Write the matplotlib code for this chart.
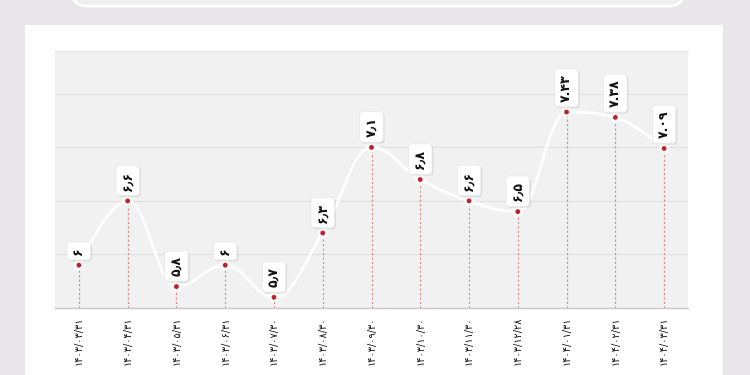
import matplotlib.pyplot as plt
from matplotlib.path import Path
from matplotlib.patches import PathPatch, Rectangle, FancyBboxPatch
import matplotlib.patheffects as pe

# Data
dates = ['۱۴۰۳/۰۳/۳۱', '۱۴۰۳/۰۴/۳۱', '۱۴۰۳/۰۵/۳۱', '۱۴۰۳/۰۶/۳۱', '۱۴۰۳/۰۷/۳۰',
         '۱۴۰۳/۰۸/۳۰', '۱۴۰۳/۰۹/۳۰', '۱۴۰۳/۱۰/۳۰', '۱۴۰۳/۱۱/۳۰', '۱۴۰۳/۱۲/۲۸',
         '۱۴۰۴/۰۱/۳۱', '۱۴۰۴/۰۲/۳۱', '۱۴۰۴/۰۳/۳۱']
values = [6.0, 6.6, 5.8, 6.0, 5.7, 6.3, 7.1, 6.8, 6.6, 6.5, 7.43, 7.38, 7.09]
value_labels = ['۶', '۶٫۶', '۵٫۸', '۶', '۵٫۷', '۶٫۳', '۷٫۱', '۶٫۸', '۶٫۶', '۶٫۵',
                '۷.۴۳', '۷.۳۸', '۷.۰۹']
y_min, y_max = 5.6, 8.0
grid_levels = [6.1, 6.6, 7.1, 7.6]


def spline_path(xs, ys, smoothing=1.5):
    # highcharts-style spline through the points
    n = len(xs)
    verts = [(xs[0], ys[0])]
    codes = [Path.MOVETO]
    right_prev = (xs[0], ys[0])
    for i in range(1, n):
        x, y = xs[i], ys[i]
        if i < n - 1:
            px, py = xs[i - 1], ys[i - 1]
            nx, ny = xs[i + 1], ys[i + 1]
            lx = (smoothing * x + px) / (smoothing + 1)
            ly = (smoothing * y + py) / (smoothing + 1)
            rx = (smoothing * x + nx) / (smoothing + 1)
            ry = (smoothing * y + ny) / (smoothing + 1)
            corr = (ry - ly) * (rx - x) / (rx - lx) + y - ry
            ly += corr
            ry += corr
            if ly > max(py, y):
                ly = max(py, y); ry = 2 * y - ly
            elif ly < min(py, y):
                ly = min(py, y); ry = 2 * y - ly
            if ry > max(ny, y):
                ry = max(ny, y); ly = 2 * y - ry
            elif ry < min(ny, y):
                ry = min(ny, y); ly = 2 * y - ry
        else:
            lx, ly, rx, ry = x, y, x, y
        verts += [right_prev, (lx, ly), (x, y)]
        codes += [Path.CURVE4] * 3
        right_prev = (rx, ry)
    return Path(verts, codes)


fig = plt.figure(figsize=(7.5, 3.75), dpi=100, facecolor='#e8e6e8')

# white panel and top banner
fig.add_artist(Rectangle((25 / 750, 0), 698 / 750, 350 / 375, transform=fig.transFigure,
                         facecolor='white', edgecolor='none', zorder=-2))
fig.add_artist(FancyBboxPatch((0.72, 3.69), 6.12, 0.5,
                              boxstyle='round,pad=0,rounding_size=0.15',
                              transform=fig.dpi_scale_trans, facecolor='#efeeef',
                              edgecolor='white', linewidth=2, zorder=-1))

ax = fig.add_axes([55 / 750, 67 / 375, 633 / 750, 257 / 375])
ax.set_facecolor('#f1f1f1')
ax.set_xlim(-0.49, len(values) - 0.51)
ax.set_ylim(y_min, y_max)

for g in grid_levels:
    ax.axhline(g, color='#e2e2e2', linewidth=1, zorder=1)

xs = list(range(len(values)))

# dashed drop lines
ax.vlines(xs, y_min, values, colors='#d98a8e', linestyles=(0, (2, 2)), linewidth=0.8, zorder=2)

# smooth white line
ax.add_patch(PathPatch(spline_path(xs, values), facecolor='none', edgecolor='white',
                       linewidth=2, zorder=3))

# points
ax.scatter(xs, values, s=55, color='white', alpha=0.8, edgecolors='none', zorder=4)
ax.scatter(xs, values, s=12, color='#c41e2a', edgecolors='none', zorder=5)

# value labels
for x, v, lab in zip(xs, values, value_labels):
    t = ax.annotate(lab, (x, v), xytext=(0, 7.5), textcoords='offset points',
                    rotation=90, ha='center', va='bottom', fontsize=9, fontweight='bold',
                    color='#111111', zorder=6,
                    bbox=dict(boxstyle='round,pad=0.42,rounding_size=0.3', facecolor='white',
                              edgecolor='#e6e6e6', linewidth=0.5))
    t.get_bbox_patch().set_path_effects([pe.SimplePatchShadow(offset=(1, -1), alpha=0.12),
                                         pe.Normal()])

ax.set_xticks(xs)
ax.set_xticklabels(dates, rotation=90, fontsize=7, color='#111111')
ax.tick_params(axis='x', length=0, pad=6)
ax.set_yticks([])
for s in ['left', 'right']:
    ax.spines[s].set_visible(False)
ax.spines['top'].set_color('#e4e4e4')
ax.spines['bottom'].set_color('#c8c8c8')
ax.spines['bottom'].set_linewidth(1)

fig.savefig('out.png', dpi=100, facecolor=fig.get_facecolor())
